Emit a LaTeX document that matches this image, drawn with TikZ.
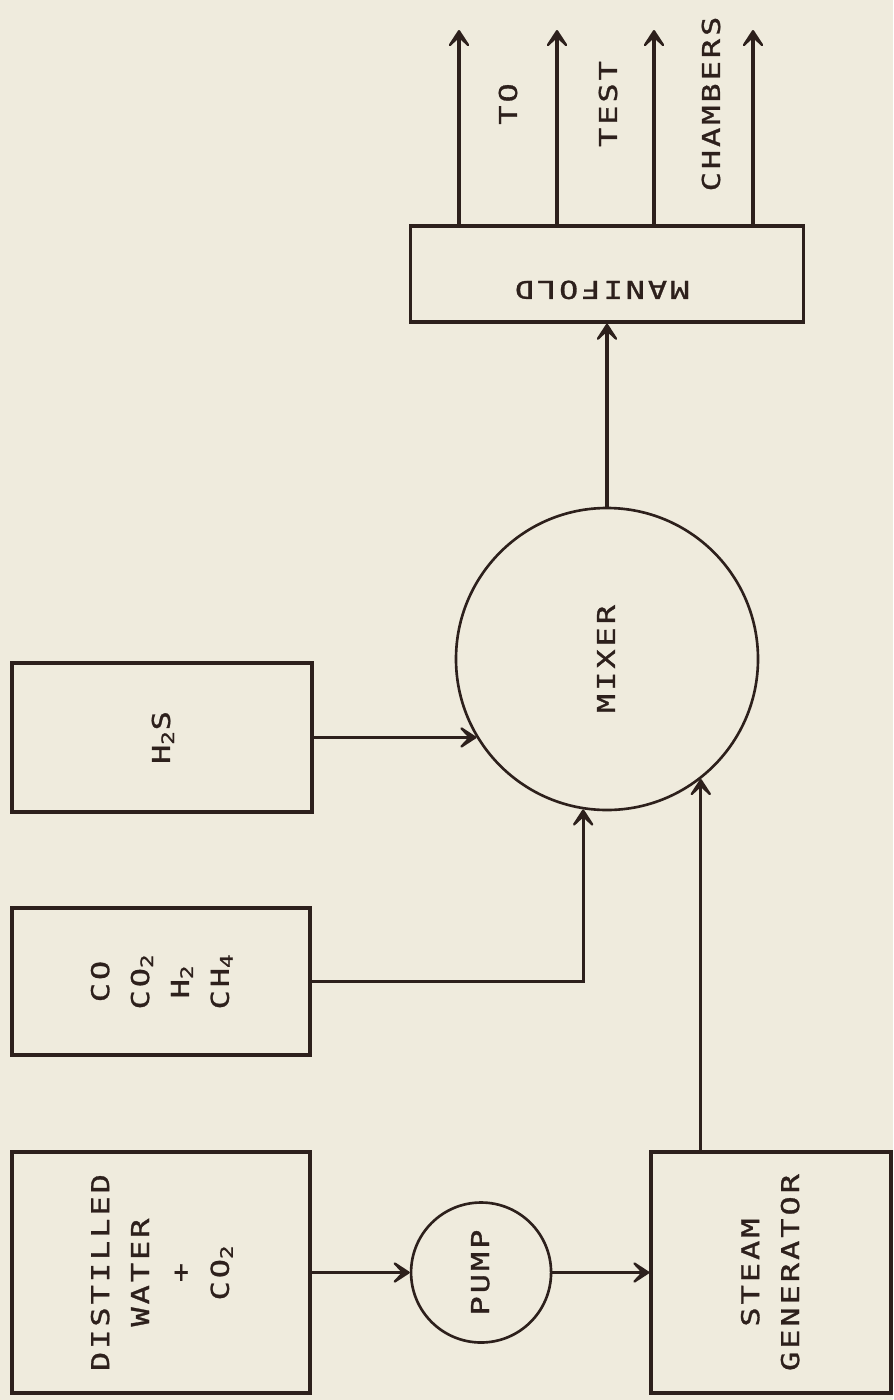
\documentclass[tikz,border=0pt]{standalone}
\usepackage{fontspec}
\usepackage{graphicx}
\usepackage{tikz}
\usetikzlibrary{arrows.meta, positioning, calc}
\newfontfamily\plotfont[LetterSpace=12, FakeStretch=1.3, FakeBold=1.2]{DejaVu Sans Mono}
\definecolor{ink}{RGB}{45,32,28}
\definecolor{paper}{RGB}{239,235,221}
\newcommand{\vlabel}[1]{\rotatebox{90}{\begin{tabular}{@{}c@{}}#1\end{tabular}}}
\tikzset{
  box/.style={rectangle, draw=ink, line width=2pt, inner sep=0pt},
  ring/.style={circle, draw=ink, line width=1.5pt, inner sep=0pt},
  flow/.style={-{Stealth[length=4.6mm,width=6mm,inset=2.8mm,round]}, line width=1.8pt, color=ink},
  tag/.style={inner sep=0pt}
}

\begin{document}
\begin{tikzpicture}[font=\plotfont\fontsize{14}{22.7}\selectfont, text=ink]
  \fill [paper] (0,0) rectangle (17.86,-28);
  \useasboundingbox (0,0) rectangle (17.86,-28);

  \node [box, minimum width=5.96cm, minimum height=4.82cm] (water) at (3.22,-25.45)
    {\vlabel{DISTILLED\\WATER\\+\\CO\textsubscript{2}}};
  \node [box, minimum width=5.96cm, minimum height=2.94cm] (gas) at (3.22,-19.63)
    {\vlabel{CO\\CO\textsubscript{2}\\H\textsubscript{2}\\CH\textsubscript{4}}};
  \node [box, minimum width=6cm, minimum height=2.98cm] (hs) at (3.24,-14.75)
    {\vlabel{H\textsubscript{2}S}};
  \node [ring, minimum size=2.8cm, right=1.96cm of water] (pump) {\vlabel{PUMP}};
  \node [box, minimum width=4.8cm, minimum height=4.82cm, right=1.94cm of pump] (steam)
    {\vlabel{STEAM\\GENERATOR}};
  \node [ring, minimum size=6.04cm] (mixer) at (12.14,-13.18) {\vlabel{MIXER}};
  \node [box, minimum width=7.86cm, minimum height=1.92cm, above=3.66cm of mixer] (manifold) {};
  \node [tag] (mlabel) at ($(manifold.center)+(-0.1,-0.32)$) {\rotatebox{180}{MANIFOLD}};

  \foreach \x [count=\i] in {9.18, 11.14, 13.08, 15.06}
    \coordinate (out\i) at (\x,-0.6);

  \node [tag] (to) at (10.16,-2.08) {\rotatebox{90}{TO}};
  \node [tag] (test) at (12.16,-2.08) {\rotatebox{90}{TEST}};
  \node [tag] (chambers) at (14.22,-2.08) {\rotatebox{90}{CHAMBERS}};

  \draw [flow] (water) -- (pump);
  \draw [flow] (pump) -- (steam);
  \draw [flow] (mixer.-52 |- steam.north) -- (mixer.-52);
  \draw [flow] (gas.east) -| (mixer.261);
  \draw [flow] (mixer.211.5 -| hs.east) -- (mixer.211.5);
  \draw [flow] (mixer) -- (manifold);
  \foreach \i in {1,...,4}
    \draw [flow] (manifold.north -| out\i) -- (out\i);
\end{tikzpicture}
\end{document}
